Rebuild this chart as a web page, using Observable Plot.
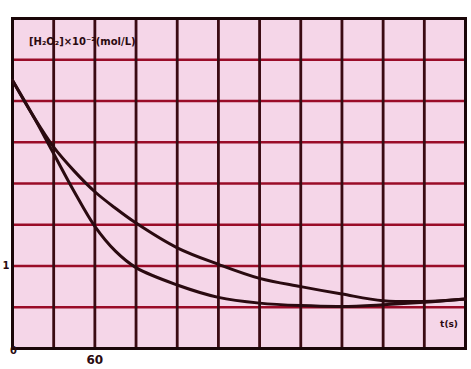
<!DOCTYPE html>
<html>
<head>
<meta charset="utf-8">
<script src="https://cdn.jsdelivr.net/npm/d3@7"></script>
<script src="https://cdn.jsdelivr.net/npm/@observablehq/plot@0.6"></script>
<style>
  html, body { margin: 0; padding: 0; background: #ffffff; }
  #chart svg { display: block; }
</style>
</head>
<body>
<div id="chart"></div>
<script>
// Time (s)
const times = [0, 15, 30, 45, 60, 75, 90, 120, 150, 180, 210, 240, 270, 300, 330];
// [H2O2] ×10^-2 mol/L, slower decay curve
const slowSeries = [3.25, 2.82, 2.44, 2.15, 1.9, 1.7, 1.52, 1.22, 1.02, 0.85, 0.75, 0.66, 0.58, 0.57, 0.6];
// [H2O2] ×10^-2 mol/L, faster decay curve
const fastSeries = [3.25, 2.82, 2.36, 1.9, 1.48, 1.18, 0.98, 0.77, 0.62, 0.55, 0.52, 0.51, 0.53, 0.56, 0.6];
// grid and tick positions
const xGrid = [0, 30, 60, 90, 120, 150, 180, 210, 240, 270, 300, 330];
const yGrid = [0, 0.5, 1, 1.5, 2, 2.5, 3, 3.5, 4];
const xTickLabels = [60];
const yTickLabels = [1];

const slow = times.map((t, i) => ({t, c: slowSeries[i]}));
const fast = times.map((t, i) => ({t, c: fastSeries[i]}));

const chart = Plot.plot({
  width: 471,
  height: 369,
  marginLeft: 12,
  marginRight: 6,
  marginTop: 18,
  marginBottom: 21,
  style: {background: "#ffffff", fontFamily: "DejaVu Sans, sans-serif"},
  x: {domain: [0, 330], label: null},
  y: {domain: [0, 4], label: null},
  marks: [
    Plot.frame({fill: "#f5d6e8", stroke: "none"}),
    Plot.ruleY(yGrid, {stroke: "#9a0c28", strokeWidth: 2.6}),
    Plot.ruleX(xGrid, {stroke: "#3a0a12", strokeWidth: 2.8}),
    Plot.frame({stroke: "#1a0608", strokeWidth: 3}),
    Plot.line(slow, {x: "t", y: "c", curve: "catmull-rom", stroke: "#2a0a10", strokeWidth: 3}),
    Plot.line(fast, {x: "t", y: "c", curve: "catmull-rom", stroke: "#2a0a10", strokeWidth: 3}),
    Plot.axisX(xTickLabels, {label: null, tickSize: 0, tickPadding: 7, fontSize: 12, fontWeight: "bold", fill: "#2a0a10", tickFormat: d => String(d)}),
    Plot.axisY(yTickLabels, {label: null, tickSize: 0, tickPadding: 3, fontSize: 10, fontWeight: "bold", fill: "#2a0a10", tickFormat: d => String(d)}),
    Plot.text(["0"], {x: 0, y: 0, dx: 1, dy: 2, fontSize: 10, fontWeight: "bold", fill: "#2a0a10", textAnchor: "middle"}),
    Plot.text(["t(s)"], {x: 318, y: 0.25, dy: -4, fontSize: 9, fontWeight: "bold", fill: "#2a0a10", textAnchor: "middle"}),
    Plot.text(["[H₂O₂]×10⁻²(mol/L)"], {x: 12, y: 3.75, dy: 3, fontSize: 10, fontWeight: "bold", fill: "#2a0a10", textAnchor: "start"})
  ]
});
document.getElementById("chart").appendChild(chart);
</script>
</body>
</html>
